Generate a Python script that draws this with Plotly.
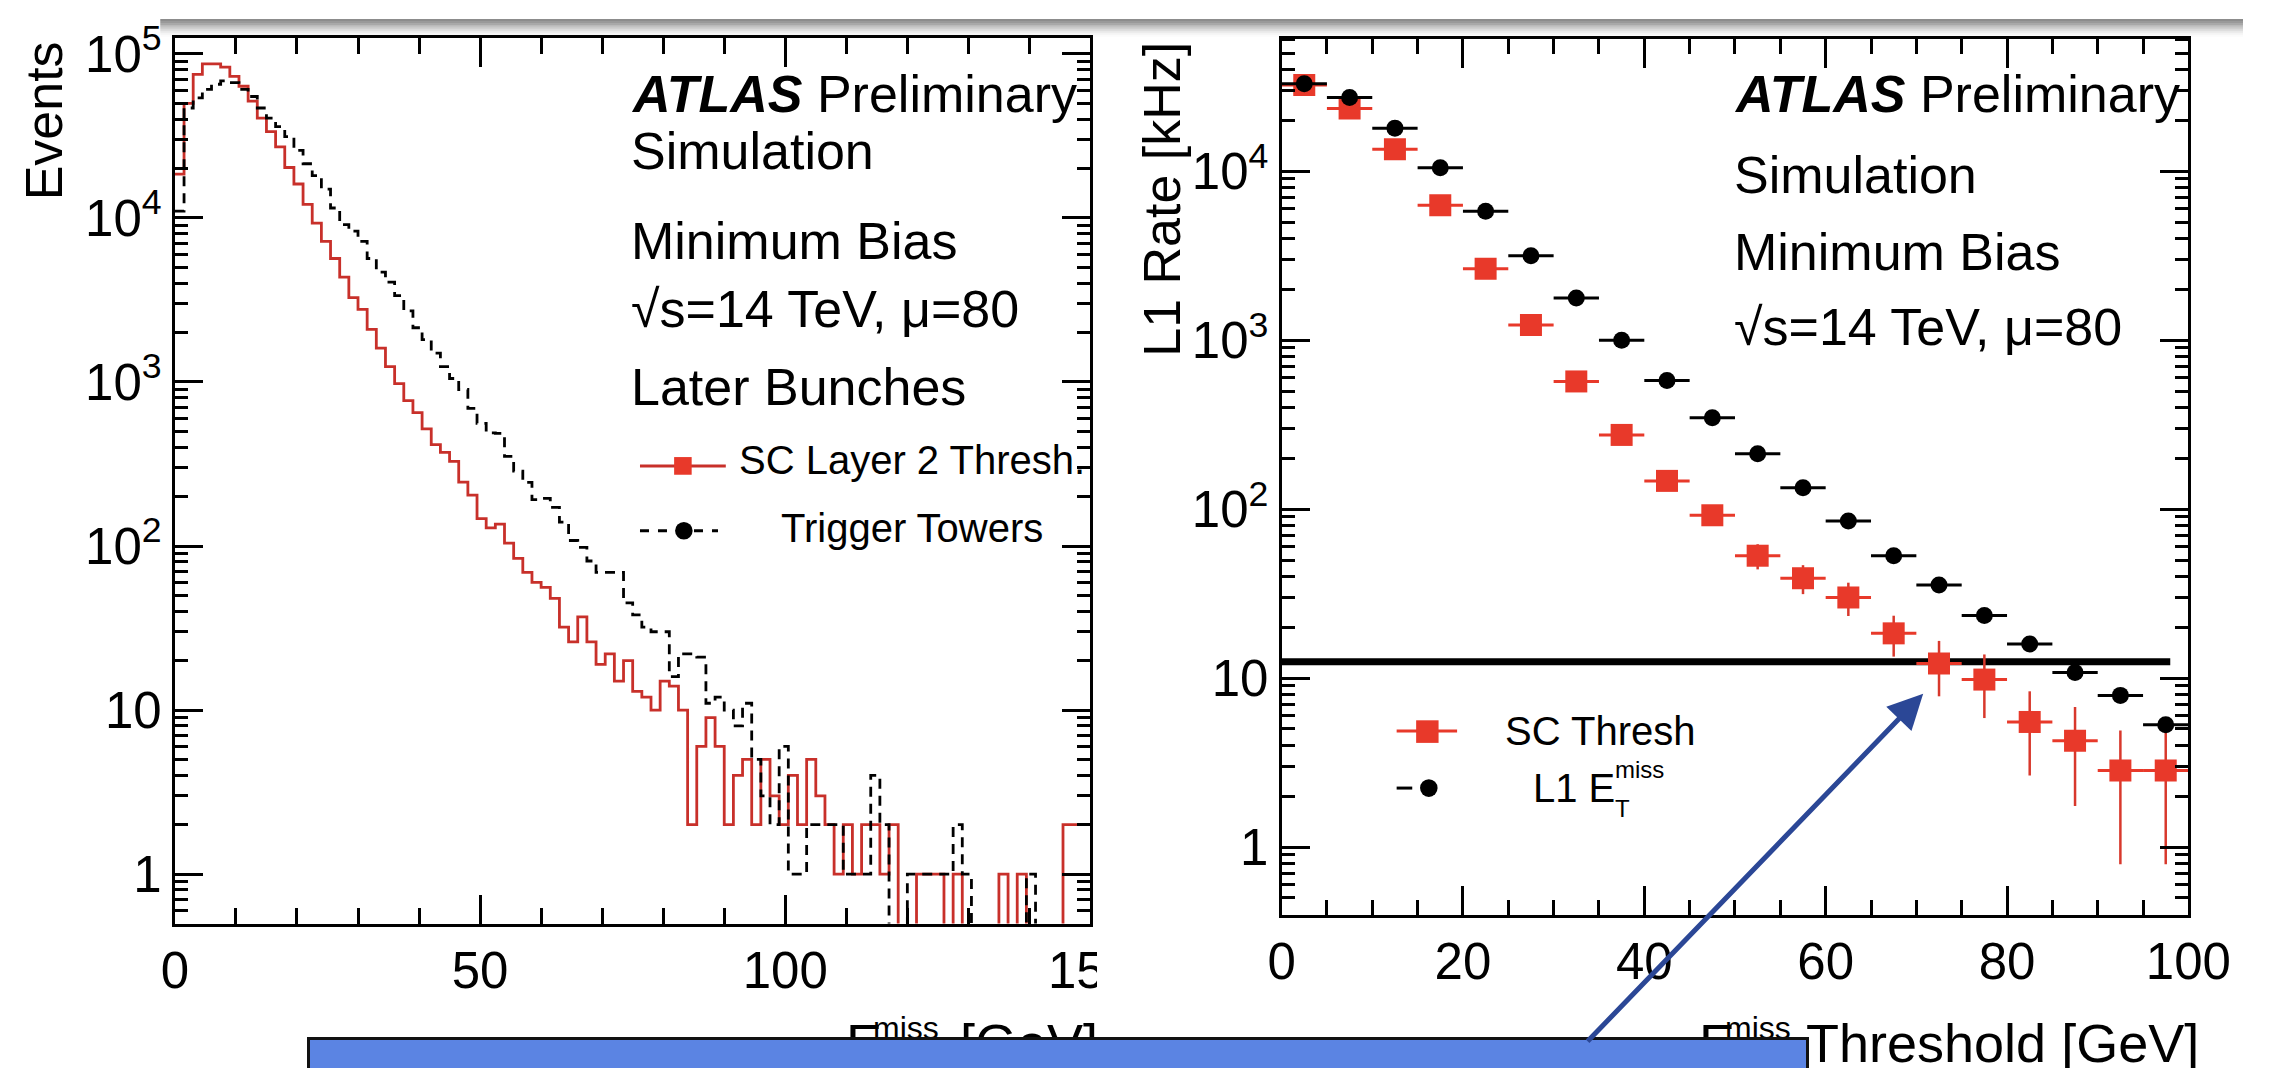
import numpy as np
import plotly.graph_objects as go

W, H = 2286, 1068
FONT = "Liberation Sans, Arial, Helvetica, sans-serif"

# ---------------- data: left panel (histograms, 1.5 GeV bins from 0 to 150) ----------------
bin_width = 1.5
sc_layer2_events = [
    18500, 50000, 75000, 87000, 87000, 83000, 73000, 63500, 51500, 40600,
    33600, 27100, 20300, 16100, 12100, 9300, 7200, 5660, 4360, 3270,
    2770, 2090, 1610, 1240, 977, 770, 650, 518, 415, 372,
    328, 245, 204, 147, 129, 136, 104, 84, 69, 60,
    56, 48, 32, 26, 37, 26, 19, 22, 15, 20,
    13, 12, 10, 15, 14, 10, 2, 6, 9, 6,
    2, 4, 5, 2, 5, 3, 2, 4, 2, 5,
    3, 2, 1, 2, 1, 2, 2, 1, 2, 0,
    0, 1, 1, 1, 0, 1, 0, 0, 0, 0,
    1, 0, 1, 0, 0, 0, 0, 2, 2, 2]
trigger_tower_events = [
    11000, 46800, 53900, 60800, 65300, 68400, 66800, 60800, 55000, 46800,
    40600, 36000, 31300, 25800, 21400, 18100, 15000, 11500, 9100, 8300,
    7200, 5660, 4680, 4060, 3360, 2710, 2140, 1810, 1500, 1240,
    1050, 900, 690, 560, 490, 486, 352, 286, 244, 192,
    195, 172, 140, 108, 98, 81, 69, 69, 69, 45,
    38, 32, 30, 30, 16, 22, 22, 21, 11, 12,
    10, 8, 11, 5, 3, 2, 6, 1, 1, 2,
    2, 2, 2, 1, 1, 1, 4, 2, 0, 0,
    1, 1, 1, 1, 1, 2, 1, 0, 0, 0,
    0, 0, 0, 1, 0, 0, 0, 0, 0, 0]
left_xticks = [0, 50, 100, 150]
left_yticks = [1, 10, 100, 1000, 10000, 100000]
left_yticktext = ["1", "10", "10<sup>2</sup>", "10<sup>3</sup>", "10<sup>4</sup>", "10<sup>5</sup>"]

# ---------------- data: right panel (rate vs threshold) ----------------
thresholds = [2.5, 7.5, 12.5, 17.5, 22.5, 27.5, 32.5, 37.5, 42.5, 47.5,
              52.5, 57.5, 62.5, 67.5, 72.5, 77.5, 82.5, 87.5, 92.5, 97.5]
threshold_halfwidth = [2.5] * 20
sc_thresh_rate = [32400, 23500, 13500, 6300, 2650, 1230, 570, 275, 147, 92,
                  53, 39, 30, 18.4, 12.2, 9.8, 5.5, 4.25, 2.84, 2.84]
sc_thresh_err = [180, 155, 115, 80, 51, 35, 24, 17, 12, 10,
                 9, 7.6, 6.7, 5, 4.4, 4, 2.85, 2.5, 2.05, 2.05]
l1_met_rate = [33000, 27300, 18000, 10500, 5800, 3160, 1780, 1000, 578, 347,
               213, 134, 85, 53, 35.6, 23.5, 15.9, 10.8, 7.9, 5.3]
rate_limit_khz = 12.5
rate_limit_x = [0, 98]
right_xticks = [0, 20, 40, 60, 80, 100]
right_yticks = [1, 10, 100, 1000, 10000]
right_yticktext = ["1", "10", "10<sup>2</sup>", "10<sup>3</sup>", "10<sup>4</sup>"]

# ---------------- styling ----------------
RED_H = "#c8302a"
RED_M = "#e8392a"
BLUE_BOX = "#5b84e3"
ARROW = "#2b4796"


def px(x):
    return x / W


def py(y):
    return 1 - y / H


def minor_log(lo, hi):
    vals = []
    for k in range(lo, hi + 1):
        for m in range(2, 10):
            vals.append(m * 10 ** k)
    return vals


fig = go.Figure()

edges = list(np.arange(len(sc_layer2_events) + 1) * bin_width)
floor = 1e-3


def steps(vals):
    v = [x if x > 0 else floor for x in vals]
    return v + [v[-1]]


fig.add_trace(go.Scatter(x=edges, y=steps(sc_layer2_events), mode="lines",
                         line=dict(shape="hv", color=RED_H, width=2.8),
                         xaxis="x", yaxis="y", showlegend=False, hoverinfo="skip"))
fig.add_trace(go.Scatter(x=edges, y=steps(trigger_tower_events), mode="lines",
                         line=dict(shape="hv", color="black", width=2.8, dash="10px,7px"),
                         xaxis="x", yaxis="y", showlegend=False, hoverinfo="skip"))

# right panel
fig.add_trace(go.Scatter(x=rate_limit_x, y=[rate_limit_khz] * 2, mode="lines",
                         line=dict(color="black", width=7), xaxis="x2", yaxis="y2",
                         showlegend=False, hoverinfo="skip"))
fig.add_trace(go.Scatter(x=thresholds, y=sc_thresh_rate, mode="markers",
                         marker=dict(symbol="square", size=22, color=RED_M),
                         error_x=dict(type="data", array=threshold_halfwidth, color=RED_M,
                                      thickness=3, width=0),
                         error_y=dict(type="data", array=sc_thresh_err, color="#d8382c",
                                      thickness=2.5, width=0),
                         xaxis="x2", yaxis="y2", showlegend=False))
fig.add_trace(go.Scatter(x=thresholds, y=l1_met_rate, mode="markers",
                         marker=dict(symbol="circle", size=17, color="black"),
                         error_x=dict(type="data", array=threshold_halfwidth, color="black",
                                      thickness=3, width=0),
                         xaxis="x2", yaxis="y2", showlegend=False))

axis_common = dict(showline=True, linewidth=3, linecolor="black", mirror="allticks",
                   ticks="inside", tickwidth=3, tickcolor="black", showgrid=False,
                   zeroline=False, tickmode="array", ticklabeloverflow="allow",
                   tickfont=dict(family=FONT, size=51, color="black"))

fig.update_layout(
    width=W, height=H, autosize=False,
    margin=dict(l=0, r=0, t=0, b=0),
    paper_bgcolor="white", plot_bgcolor="white",
    xaxis=dict(domain=[px(165), px(1104)], range=[0, 150], anchor="y",
               tickvals=left_xticks, ticktext=[str(v) for v in left_xticks], ticklen=29,
               minor=dict(ticks="inside", ticklen=16, tickwidth=2.5, tickcolor="black",
                          tickmode="linear", tick0=0, dtick=10, showgrid=False),
               **axis_common),
    yaxis=dict(domain=[py(921), py(19)], type="log", range=[-0.302, 5.099], anchor="x",
               tickvals=left_yticks, ticktext=left_yticktext, ticklen=28,
               minor=dict(ticks="inside", ticklen=13, tickwidth=2.5, tickcolor="black",
                          tickmode="array", tickvals=minor_log(-1, 5), showgrid=False),
               **axis_common),
    xaxis2=dict(domain=[px(1300), px(2230)], range=[0, 100], anchor="y2",
                tickvals=right_xticks, ticktext=[str(v) for v in right_xticks], ticklen=29,
                minor=dict(ticks="inside", ticklen=15, tickwidth=2.5, tickcolor="black",
                           tickmode="linear", tick0=0, dtick=5, showgrid=False),
                **axis_common),
    yaxis2=dict(domain=[py(912), py(20)], type="log", range=[-0.401, 4.785], anchor="x2",
                tickvals=right_yticks, ticktext=right_yticktext, ticklen=28,
                minor=dict(ticks="inside", ticklen=13, tickwidth=2.5, tickcolor="black",
                           tickmode="array", tickvals=minor_log(-1, 4), showgrid=False),
                **axis_common),
)

shapes = []
# top shadow band
for i, a in enumerate([0.62, 0.55, 0.47, 0.38, 0.29, 0.2, 0.12, 0.06, 0.02]):
    shapes.append(dict(type="rect", xref="paper", yref="paper", x0=px(150), x1=1,
                       y0=py(2 * i + 2), y1=py(2 * i), fillcolor=f"rgba(70,70,70,{a})",
                       line=dict(width=0), layer="above"))

# left legend symbols
shapes.append(dict(type="line", xref="paper", yref="paper", x0=px(642), x1=px(730),
                   y0=py(455), y1=py(455), line=dict(color=RED_H, width=3)))
shapes.append(dict(type="rect", xref="paper", yref="paper", x0=px(677), x1=px(695),
                   y0=py(464), y1=py(446), fillcolor=RED_M, line=dict(width=0)))
shapes.append(dict(type="line", xref="paper", yref="paper", x0=px(642), x1=px(722),
                   y0=py(521), y1=py(521), line=dict(color="black", width=3, dash="dash")))
shapes.append(dict(type="circle", xref="paper", yref="paper", x0=px(678), x1=px(696),
                   y0=py(530), y1=py(512), fillcolor="black", line=dict(width=0)))
# right legend symbols
shapes.append(dict(type="line", xref="paper", yref="paper", x0=px(1418), x1=px(1480),
                   y0=py(725), y1=py(725), line=dict(color=RED_M, width=3)))
shapes.append(dict(type="rect", xref="paper", yref="paper", x0=px(1438), x1=px(1461),
                   y0=py(737), y1=py(714), fillcolor=RED_M, line=dict(width=0)))
shapes.append(dict(type="line", xref="paper", yref="paper", x0=px(1418), x1=px(1434),
                   y0=py(783), y1=py(783), line=dict(color="black", width=3)))
shapes.append(dict(type="circle", xref="paper", yref="paper", x0=px(1442), x1=px(1460),
                   y0=py(792), y1=py(774), fillcolor="black", line=dict(width=0)))
fig.update_layout(shapes=shapes)

ann = []


def text(s, x, baseline, size, anchor="left", **kw):
    ann.append(dict(text=s, x=px(x), y=py(baseline - 0.35 * size), xref="paper", yref="paper",
                    xanchor=anchor, yanchor="middle", showarrow=False,
                    font=dict(family=FONT, size=size, color="black"), **kw))


# left panel labels
text("<b><i>ATLAS</i></b> Preliminary", 631, 95, 52)
text("Simulation", 631, 153, 52)
text("Minimum Bias", 631, 244, 52)
text("\u221as=14 TeV, \u03bc=80", 631, 313, 52)
text("Later Bunches", 631, 393, 52)
text("SC Layer 2 Thresh.", 741, 463, 40)
text("Trigger Towers", 785, 532, 40)
# right panel labels
text("<b><i>ATLAS</i></b> Preliminary", 1762, 95, 52)
text("Simulation", 1762, 177, 52)
text("Minimum Bias", 1762, 255, 52)
text("\u221as=14 TeV, \u03bc=80", 1762, 332, 52)
text("SC Thresh", 1527, 739, 40)
text("L1 E", 1556, 797, 40)
text("miss", 1640, 772, 24)
text("T", 1640, 812, 24)

# y-axis titles
ann.append(dict(text="Events", textangle=-90, x=px(31), y=py(21), xref="paper", yref="paper",
                xanchor="center", yanchor="top", showarrow=False,
                font=dict(family=FONT, size=52, color="black")))
ann.append(dict(text="L1 Rate [kHz]", textangle=-90, x=px(1177), y=py(21), xref="paper",
                yref="paper", xanchor="center", yanchor="top", showarrow=False,
                font=dict(family=FONT, size=52, color="black")))

# x-axis titles
text("E", 851, 1061, 54)
text("miss", 879, 1038, 32)
text("T", 879, 1078, 32)
text("[GeV]", 968, 1061, 54)
text("E", 1726, 1061, 54)
text("miss", 1753, 1038, 32)
text("T", 1753, 1078, 32)
text("Threshold [GeV]", 1836, 1061, 54)

# white cover where the right panel hides the end of the left panel
ann.append(dict(text=" ", x=px(1111), y=py(925), xref="paper", yref="paper",
                xanchor="left", yanchor="top", width=45, height=110, bgcolor="white",
                borderpad=0, borderwidth=0, showarrow=False))
# box shadow
ann.append(dict(text=" ", x=px(1800), y=py(1040), xref="paper", yref="paper",
                xanchor="left", yanchor="top", width=14, height=40,
                bgcolor="rgba(0,0,0,0.45)", borderpad=0, borderwidth=0, showarrow=False))
ann.append(dict(text=" ", x=px(1812), y=py(1042), xref="paper", yref="paper",
                xanchor="left", yanchor="top", width=16, height=40,
                bgcolor="rgba(0,0,0,0.18)", borderpad=0, borderwidth=0, showarrow=False))
# blue box
ann.append(dict(text=" ", x=px(301), y=py(1036), xref="paper", yref="paper",
                xanchor="left", yanchor="top", width=1496, height=60, bgcolor=BLUE_BOX,
                bordercolor="#111111", borderwidth=3, borderpad=0, showarrow=False))
# arrow (tail on the box, head near the crossing point)
ann.append(dict(text="", x=px(1958), y=py(687), xref="paper", yref="paper",
                ax=1621 - 1958, ay=1036 - 687, axref="pixel", ayref="pixel",
                showarrow=True, arrowhead=2, arrowsize=1.4, arrowwidth=5,
                arrowcolor=ARROW, standoff=0, startstandoff=0))

fig.update_layout(annotations=ann)
fig.write_html("out.html")
